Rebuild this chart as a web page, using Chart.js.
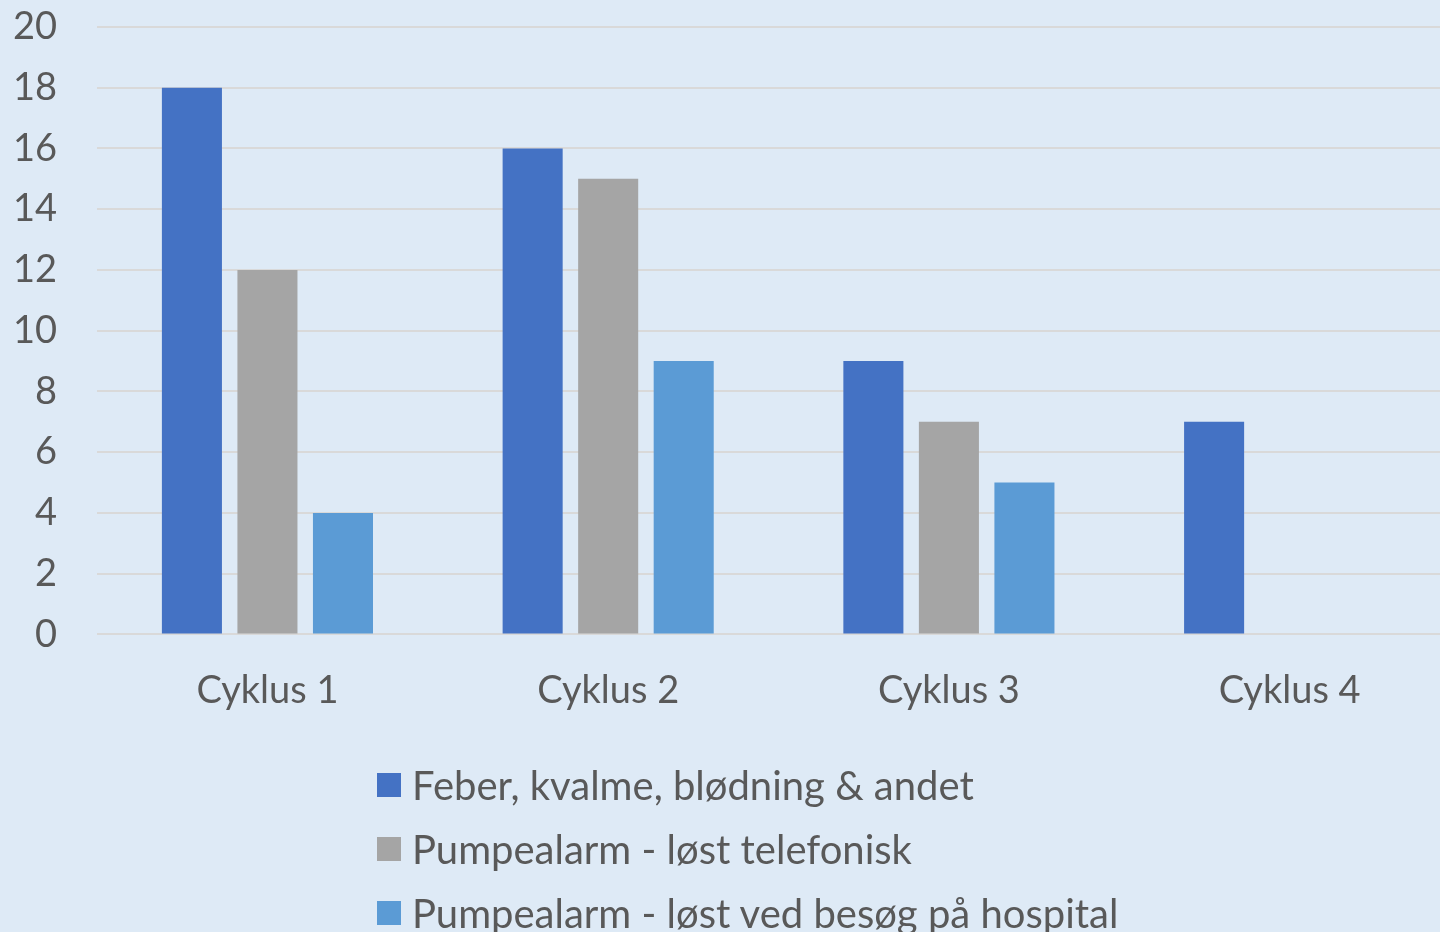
<!DOCTYPE html>
<html>
<head>
<meta charset="utf-8">
<script src="https://cdn.jsdelivr.net/npm/chart.js@4.4.1/dist/chart.umd.min.js"></script>
<style>
  html, body { margin: 0; padding: 0; background: #DEEAF6; overflow: hidden; }
  #wrap { position: relative; width: 1440px; height: 932px; overflow: hidden; }
  #legend { position: absolute; left: 377px; top: 753px; font-family: Lato, sans-serif; font-size: 40px; color: #595959; }
  #legend div { display: flex; align-items: center; height: 64px; white-space: nowrap; }
  #legend span.box { width: 24px; height: 24px; margin-right: 11px; display: inline-block; flex: none; }
</style>
</head>
<body>
<div id="wrap">
  <!-- plot runs a little past the right edge in the original, so the canvas is wider and clipped -->
  <canvas id="chart" width="1460" height="932"></canvas>
  <div id="legend"></div>
</div>
<script>
const categories = ["Cyklus 1", "Cyklus 2", "Cyklus 3", "Cyklus 4"];
const seriesNames = [
  "Feber, kvalme, blødning & andet",
  "Pumpealarm - løst telefonisk",
  "Pumpealarm - løst ved besøg på hospital"
];
const feber = [18, 16, 9, 7];
const telefonisk = [12, 15, 7, 0];
const hospital = [4, 9, 5, 0];
const colors = ["#4472C4", "#A5A5A5", "#5B9BD5"];

let textColor = "#595959";
let fontFamily = "Lato, sans-serif";

let ctx = document.getElementById("chart").getContext("2d");
let chart = new Chart(ctx, {
    type: "bar",
    data: {
        labels: categories,
        datasets: [feber, telefonisk, hospital].map((vals, i) => ({
            label: seriesNames[i],
            data: vals,
            backgroundColor: colors[i],
            borderWidth: 0,
            categoryPercentage: 0.665,
            barPercentage: 0.795
        }))
    },
    options: {
        responsive: false,
        animation: false,
        layout: { padding: { left: 13, right: 0, top: 27, bottom: 218 } },
        plugins: {
            legend: { display: false },
            tooltip: { enabled: false }
        },
        scales: {
            x: {
                // invisible tick marks give the gap between axis and labels
                grid: { color: "rgba(0,0,0,0)", drawOnChartArea: false, drawTicks: true, tickLength: 34 },
                border: { display: false },
                ticks: { color: textColor, font: { family: fontFamily, size: 38 }, padding: 0 }
            },
            y: {
                min: 0,
                max: 20,
                ticks: { stepSize: 2, color: textColor, font: { family: fontFamily, size: 38 }, padding: 0 },
                grid: { color: "#D9D9D9", lineWidth: 2, drawTicks: true, tickLength: 40, tickColor: "rgba(0,0,0,0)" },
                border: { display: false }
            }
        }
    }
});

// legend: one item per row, like the original
let legendBox = document.getElementById("legend");
chart.data.datasets.forEach(ds => {
    let row = document.createElement("div");
    row.innerHTML = `<span class="box" style="background:${ds.backgroundColor}"></span>${ds.label}`;
    legendBox.appendChild(row);
});
</script>
</body>
</html>
